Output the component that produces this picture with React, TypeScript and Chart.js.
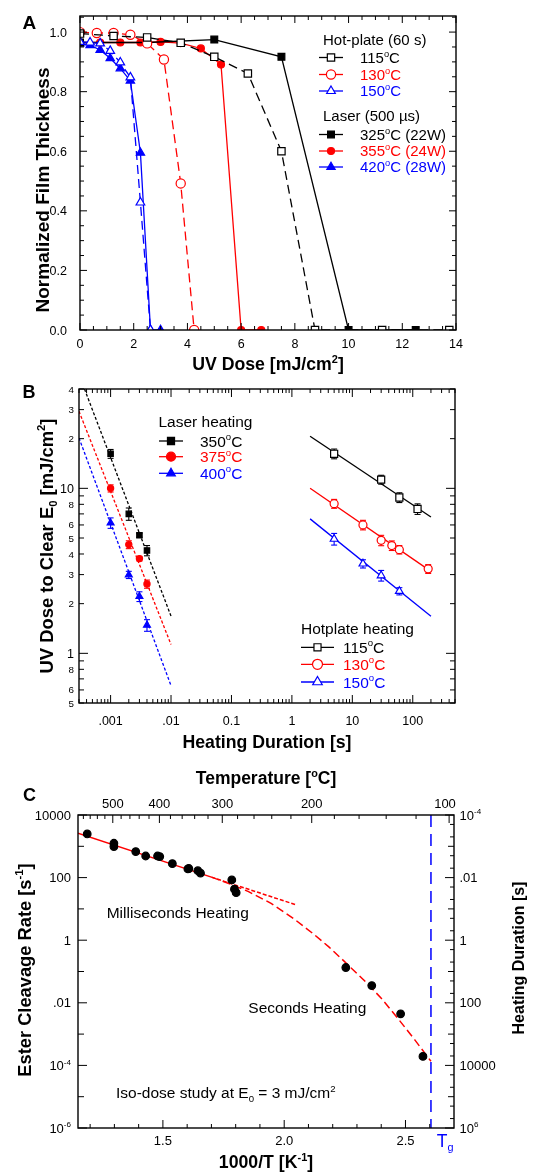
import React, { useEffect, useRef } from "react";
import { Chart, registerables } from "chart.js";

Chart.register(...registerables);

const FONT = "'Liberation Sans', Arial, Helvetica, sans-serif";
const BLACK = "#000000";
const RED = "#ff0000";
const BLUE = "#0000ff";

// ---------------- Panel A data ----------------
const hp115Dose = [0, 1.25, 2.5, 3.75, 5, 6.25, 7.5, 8.75, 11.25, 13.75];
const hp115Thick = [0.995, 0.987, 0.982, 0.964, 0.917, 0.861, 0.6, 0, 0, 0];
const hp130Dose = [0, 0.625, 1.25, 1.875, 2.5, 3.125, 3.75, 4.25];
const hp130Thick = [1.0, 0.997, 0.997, 0.991, 0.962, 0.908, 0.492, 0];
const hp150Dose = [0, 0.375, 0.75, 1.125, 1.5, 1.875, 2.25, 2.625];
const hp150Thick = [0.967, 0.965, 0.962, 0.937, 0.898, 0.848, 0.428, 0];
const ls325Dose = [0, 2.5, 5, 7.5, 10, 12.5];
const ls325Thick = [0.965, 0.965, 0.975, 0.917, 0, 0];
const ls355Dose = [0, 0.75, 1.5, 2.25, 3, 3.75, 4.5, 5.25, 6, 6.75];
const ls355Thick = [0.965, 0.965, 0.965, 0.965, 0.967, 0.963, 0.945, 0.891, 0, 0];
const ls420Dose = [0, 0.375, 0.75, 1.125, 1.5, 1.875, 2.25, 2.625, 3];
const ls420Thick = [0.962, 0.956, 0.94, 0.912, 0.878, 0.837, 0.595, 0, 0];
const doseTickLabels = ["0", "2", "4", "6", "8", "10", "12", "14"];
const thickTickLabels = ["0.0", "0.2", "0.4", "0.6", "0.8", "1.0"];

// ---------------- Panel B data ----------------
const lz350Time = [0.001, 0.002, 0.003, 0.004];
const lz350Dose = [16.2, 7.0, 5.2, 4.2];
const lz350Err = [1.0, 0.6, 0.15, 0.3];
const lz375Time = [0.001, 0.002, 0.003, 0.004];
const lz375Dose = [10.0, 4.56, 3.75, 2.63];
const lz375Err = [0.5, 0.25, 0.12, 0.15];
const lz400Time = [0.001, 0.002, 0.003, 0.004];
const lz400Dose = [6.17, 2.99, 2.21, 1.48];
const lz400Err = [0.45, 0.15, 0.15, 0.12];
const hb115Time = [5, 30, 60, 120];
const hb115Dose = [16.2, 11.3, 8.8, 7.5];
const hb115Err = [1.1, 0.7, 0.6, 0.55];
const hb130Time = [5, 15, 30, 45, 60, 180];
const hb130Dose = [8.07, 6.0, 4.84, 4.5, 4.25, 3.25];
const hb130Err = [0.5, 0.4, 0.35, 0.3, 0.25, 0.2];
const hb150Time = [5, 15, 30, 60];
const hb150Dose = [4.93, 3.49, 2.96, 2.38];
const hb150Err = [0.4, 0.2, 0.22, 0.12];
const fit350Time = [0.00037, 0.01];
const fit350Dose = [40, 1.68];
const fit375Time = [0.0003, 0.01];
const fit375Dose = [29.3, 1.13];
const fit400Time = [0.0003, 0.01];
const fit400Dose = [20.2, 0.637];
const fit115Time = [2, 200];
const fit115Dose = [20.7, 6.7];
const fit130Time = [2, 200];
const fit130Dose = [10.0, 3.14];
const fit150Time = [2, 200];
const fit150Dose = [6.53, 1.68];
const timeTickVals = [0.001, 0.01, 0.1, 1, 10, 100];
const timeTickLabels = [".001", ".01", "0.1", "1", "10", "100"];
const doseBTickVals = [0.5, 0.6, 0.8, 1, 2, 3, 4, 5, 6, 8, 10, 20, 30, 40];
const doseBTickLabels = ["5", "6", "8", "1", "2", "3", "4", "5", "6", "8", "10", "2", "3", "4"];

// ---------------- Panel C data ----------------
const invT = [1.188, 1.298, 1.298, 1.388, 1.429, 1.478, 1.487, 1.539, 1.603, 1.607, 1.644, 1.655, 1.784, 1.795, 1.802, 2.254, 2.361, 2.48, 2.572];
const cleaveRate = [2480, 1250, 980, 676, 490, 490, 468, 279, 189, 195, 166, 138, 84, 42.7, 33, 0.134, 0.0356, 0.00445, 0.000194];
const fitSolidX = [1.15, 1.7];
const fitSolidY = [2600, 103.5];
const fitDotX = [1.7, 2.05];
const fitDotY = [103.5, 13.4];
const curveX = [1.7, 1.78, 1.853, 1.946, 2.038, 2.118, 2.184, 2.25, 2.329, 2.4, 2.473, 2.54, 2.605];
const curveY = [103.5, 61.7, 35.6, 15.0, 4.97, 1.64, 0.614, 0.203, 0.0525, 0.0141, 0.00288, 0.00063, 0.000135];
const tgX = [2.605, 2.605];
const tgY = [10000, 0.000001];
const rateTickVals = [10000, 100, 1, 0.01, 0.0001, 0.000001];
const rateTickLabels = ["10000", "100", "1", ".01", "10^{-4}", "10^{-6}"];
const durTickVals = [0.0001, 0.01, 1, 100, 10000, 1000000];
const durTickLabels = ["10^{-4}", ".01", "1", "100", "10000", "10^{6}"];
const invTTickVals = [1.5, 2.0, 2.5];
const invTTickLabels = ["1.5", "2.0", "2.5"];
const tempTickLabels = [500, 400, 300, 200, 100];

// ---------------- helpers ----------------
type Seg = { t: string; k: number };
function parseRich(s: string): Seg[] {
  const out: Seg[] = [];
  let i = 0;
  let buf = "";
  while (i < s.length) {
    const c = s[i];
    if ((c === "^" || c === "_") && s[i + 1] === "{") {
      if (buf) { out.push({ t: buf, k: 0 }); buf = ""; }
      const j = s.indexOf("}", i);
      out.push({ t: s.slice(i + 2, j), k: c === "^" ? 1 : -1 });
      i = j + 1;
    } else { buf += c; i++; }
  }
  if (buf) out.push({ t: buf, k: 0 });
  return out;
}
function fontStr(size: number, bold?: boolean) {
  return `${bold ? "bold " : ""}${size}px ${FONT}`;
}
function drawRich(ctx: CanvasRenderingContext2D, s: string, x: number, y: number, size: number, o: { bold?: boolean; align?: string; color?: string } = {}) {
  const segs = parseRich(s);
  const ss = size * 0.62;
  let w = 0;
  const widths = segs.map((g) => {
    ctx.font = fontStr(g.k ? ss : size, o.bold);
    const m = ctx.measureText(g.t).width;
    w += m;
    return m;
  });
  let cx = o.align === "center" ? x - w / 2 : o.align === "right" ? x - w : x;
  const base = y + size * 0.36;
  ctx.fillStyle = o.color || BLACK;
  ctx.textBaseline = "alphabetic";
  ctx.textAlign = "left";
  segs.forEach((g, i) => {
    ctx.font = fontStr(g.k ? ss : size, o.bold);
    const dy = g.k === 1 ? -size * 0.42 : g.k === -1 ? size * 0.22 : 0;
    ctx.fillText(g.t, cx, base + dy);
    cx += widths[i];
  });
}
function drawRichRot(ctx: CanvasRenderingContext2D, s: string, cx: number, cy: number, size: number, o: { bold?: boolean; color?: string } = {}) {
  ctx.save();
  ctx.translate(cx, cy);
  ctx.rotate(-Math.PI / 2);
  drawRich(ctx, s, 0, 0, size, { ...o, align: "center" });
  ctx.restore();
}
function seg(ctx: CanvasRenderingContext2D, x1: number, y1: number, x2: number, y2: number) {
  ctx.beginPath();
  ctx.moveTo(x1, y1);
  ctx.lineTo(x2, y2);
  ctx.stroke();
}
function drawMarker(ctx: CanvasRenderingContext2D, style: string, x: number, y: number, r: number, fill: string, stroke: string, lw: number) {
  ctx.beginPath();
  if (style === "circle") {
    ctx.arc(x, y, r, 0, Math.PI * 2);
  } else if (style === "rect") {
    const s = r * Math.SQRT1_2;
    ctx.rect(x - s, y - s, 2 * s, 2 * s);
  } else {
    ctx.moveTo(x, y - r);
    ctx.lineTo(x + r * 0.866, y + r * 0.5);
    ctx.lineTo(x - r * 0.866, y + r * 0.5);
    ctx.closePath();
  }
  ctx.fillStyle = fill;
  ctx.fill();
  ctx.lineWidth = lw;
  ctx.strokeStyle = stroke;
  ctx.setLineDash([]);
  ctx.stroke();
}
function legendEntry(ctx: CanvasRenderingContext2D, x1: number, x2: number, y: number, color: string, style: string, r: number, filled: boolean, label: string, labelX: number, size: number) {
  ctx.save();
  ctx.strokeStyle = color;
  ctx.lineWidth = 1.3;
  ctx.setLineDash([]);
  seg(ctx, x1, y, x2, y);
  drawMarker(ctx, style, (x1 + x2) / 2, y, r, filled ? color : "#ffffff", color, 1.2);
  drawRich(ctx, label, labelX, y, size, { color });
  ctx.restore();
}
function pts(xs: number[], ys: number[]) {
  return xs.map((x, i) => ({ x, y: ys[i] }));
}
function ds(xs: number[], ys: number[], color: string, style: string, r: number, filled: boolean, dash: number[], showLine = true, lw = 1.3) {
  return {
    data: pts(xs, ys),
    borderColor: color,
    borderWidth: lw,
    borderDash: dash,
    showLine,
    pointStyle: style,
    pointRadius: r,
    pointHoverRadius: r,
    pointBackgroundColor: filled ? color : "#ffffff",
    pointBorderColor: color,
    pointBorderWidth: 1.2,
    tension: 0,
    fill: false,
    clip: 0,
  };
}
function fitDs(xs: number[], ys: number[], color: string, dash: number[], lw = 1.3) {
  return {
    data: pts(xs, ys),
    borderColor: color,
    borderWidth: lw,
    borderDash: dash,
    pointRadius: 0,
    pointHoverRadius: 0,
    tension: 0,
    fill: false,
    clip: 0,
  };
}
function hidden(extra: any) {
  return { display: false, ...extra };
}
function baseOptions(padding: any, scales: any) {
  return {
    responsive: false,
    animation: false,
    devicePixelRatio: 1,
    events: [],
    layout: { padding },
    plugins: { legend: { display: false }, tooltip: { enabled: false } },
    scales,
  };
}

// ---------------- Panel A ----------------
function configA(): any {
  const decor = {
    id: "decorA",
    afterDraw(chart: any) {
      const ctx: CanvasRenderingContext2D = chart.ctx;
      const { left, right, top, bottom } = chart.chartArea;
      const xs = chart.scales.x;
      const ys = chart.scales.y;
      ctx.save();
      ctx.strokeStyle = BLACK;
      ctx.setLineDash([]);
      ctx.lineWidth = 1;
      for (let k = 0; k <= 28; k++) {
        const v = k * 0.5;
        const px = xs.getPixelForValue(v);
        const len = k % 4 === 0 ? 7 : 4;
        seg(ctx, px, bottom, px, bottom - len);
        seg(ctx, px, top, px, top + len);
      }
      for (let k = 0; k <= 21; k++) {
        const v = k * 0.05;
        const py = ys.getPixelForValue(v);
        const len = k % 4 === 0 ? 7 : 4;
        seg(ctx, left, py, left + len, py);
        seg(ctx, right, py, right - len, py);
      }
      ctx.lineWidth = 1.4;
      ctx.strokeRect(left, top, right - left, bottom - top);
      doseTickLabels.forEach((t) => {
        drawRich(ctx, t, xs.getPixelForValue(parseFloat(t)), 343, 12.5, { align: "center" });
      });
      thickTickLabels.forEach((t) => {
        drawRich(ctx, t, 67, ys.getPixelForValue(parseFloat(t)), 12.5, { align: "right" });
      });
      drawRich(ctx, "A", 22.5, 22.5, 19, { bold: true });
      drawRich(ctx, "UV Dose [mJ/cm^{2}]", (left + right) / 2, 364, 17.7, { bold: true, align: "center" });
      drawRichRot(ctx, "Normalized Film Thickness", 42, 190, 19, { bold: true });

      drawRich(ctx, "Hot-plate (60 s)", 323, 40, 15);
      legendEntry(ctx, 319, 343, 57.5, BLACK, "rect", 5.2, false, "115^{o}C", 360, 15);
      legendEntry(ctx, 319, 343, 74.5, RED, "circle", 4.6, false, "130^{o}C", 360, 15);
      legendEntry(ctx, 319, 343, 91, BLUE, "triangle", 5, false, "150^{o}C", 360, 15);
      drawRich(ctx, "Laser (500 \u00b5s)", 323, 116, 15);
      legendEntry(ctx, 319, 343, 134.5, BLACK, "rect", 4.8, true, "325^{o}C (22W)", 360, 15);
      legendEntry(ctx, 319, 343, 151, RED, "circle", 3.5, true, "355^{o}C (24W)", 360, 15);
      legendEntry(ctx, 319, 343, 167, BLUE, "triangle", 4.8, true, "420^{o}C (28W)", 360, 15);
      ctx.restore();
    },
  };
  return {
    type: "line",
    data: {
      datasets: [
        ds(hp115Dose, hp115Thick, BLACK, "rect", 5.2, false, [9, 5]),
        ds(hp130Dose, hp130Thick, RED, "circle", 4.6, false, [9, 5]),
        ds(hp150Dose, hp150Thick, BLUE, "triangle", 5, false, [9, 5]),
        ds(ls325Dose, ls325Thick, BLACK, "rect", 4.8, true, []),
        ds(ls355Dose, ls355Thick, RED, "circle", 3.5, true, []),
        ds(ls420Dose, ls420Thick, BLUE, "triangle", 4.8, true, []),
      ],
    },
    options: baseOptions(
      { left: 80, top: 16, right: 83, bottom: 50 },
      {
        x: hidden({ type: "linear", min: 0, max: 14 }),
        y: hidden({ type: "linear", min: 0, max: 1.054 }),
      }
    ),
    plugins: [decor],
  };
}

// ---------------- Panel B ----------------
const errSeries = [
  { xs: lz350Time, ys: lz350Dose, es: lz350Err, color: BLACK },
  { xs: lz375Time, ys: lz375Dose, es: lz375Err, color: RED },
  { xs: lz400Time, ys: lz400Dose, es: lz400Err, color: BLUE },
  { xs: hb115Time, ys: hb115Dose, es: hb115Err, color: BLACK },
  { xs: hb130Time, ys: hb130Dose, es: hb130Err, color: RED },
  { xs: hb150Time, ys: hb150Dose, es: hb150Err, color: BLUE },
];
function configB(): any {
  const decor = {
    id: "decorB",
    beforeDatasetsDraw(chart: any) {
      const ctx: CanvasRenderingContext2D = chart.ctx;
      const xs = chart.scales.x;
      const ys = chart.scales.y;
      ctx.save();
      ctx.lineWidth = 1.1;
      ctx.setLineDash([]);
      errSeries.forEach((s) => {
        ctx.strokeStyle = s.color;
        s.xs.forEach((x, i) => {
          const px = xs.getPixelForValue(x);
          const y1 = ys.getPixelForValue(s.ys[i] + s.es[i]);
          const y2 = ys.getPixelForValue(s.ys[i] - s.es[i]);
          seg(ctx, px, y1, px, y2);
          seg(ctx, px - 3, y1, px + 3, y1);
          seg(ctx, px - 3, y2, px + 3, y2);
        });
      });
      ctx.restore();
    },
    afterDraw(chart: any) {
      const ctx: CanvasRenderingContext2D = chart.ctx;
      const { left, right, top, bottom } = chart.chartArea;
      const xs = chart.scales.x;
      const ys = chart.scales.y;
      ctx.save();
      ctx.strokeStyle = BLACK;
      ctx.setLineDash([]);
      ctx.lineWidth = 1;
      for (let e = -4; e <= 2; e++) {
        for (let m = 1; m <= 9; m++) {
          const v = m * Math.pow(10, e);
          if (v < 0.0003 * 0.999 || v > 500 * 1.001) continue;
          const px = xs.getPixelForValue(v);
          const len = m === 1 ? 8 : 4;
          seg(ctx, px, bottom, px, bottom - len);
          seg(ctx, px, top, px, top + len);
        }
      }
      for (let e = -1; e <= 1; e++) {
        for (let m = 1; m <= 9; m++) {
          const v = m * Math.pow(10, e);
          if (v < 0.5 * 0.999 || v > 40 * 1.001) continue;
          const py = ys.getPixelForValue(v);
          const len = m === 1 ? 9 : 5;
          seg(ctx, left, py, left + len, py);
          seg(ctx, right, py, right - len, py);
        }
      }
      ctx.lineWidth = 1.4;
      ctx.strokeRect(left, top, right - left, bottom - top);
      timeTickVals.forEach((v, i) => {
        drawRich(ctx, timeTickLabels[i], xs.getPixelForValue(v), 340, 12.5, { align: "center" });
      });
      doseBTickVals.forEach((v, i) => {
        const big = v === 1 || v === 10;
        drawRich(ctx, doseBTickLabels[i], 74, ys.getPixelForValue(v), big ? 12.5 : 9.8, { align: "right" });
      });
      drawRich(ctx, "B", 22.5, 11.8, 18, { bold: true });
      drawRich(ctx, "Heating Duration [s]", (left + right) / 2, 361.7, 17.7, { bold: true, align: "center" });
      drawRichRot(ctx, "UV Dose to Clear E_{0} [mJ/cm^{2}]", 46, (top + bottom) / 2, 18.4, { bold: true });

      drawRich(ctx, "Laser heating", 158.5, 41.7, 15.5);
      legendEntry(ctx, 159, 183, 61, BLACK, "rect", 5, true, "350^{o}C", 200, 15.5);
      legendEntry(ctx, 159, 183, 76.7, RED, "circle", 4.5, true, "375^{o}C", 200, 15.5);
      legendEntry(ctx, 159, 183, 93.3, BLUE, "triangle", 5, true, "400^{o}C", 200, 15.5);
      drawRich(ctx, "Hotplate heating", 301, 248.3, 15.5);
      legendEntry(ctx, 301, 334, 267.3, BLACK, "rect", 5, false, "115^{o}C", 343, 15.5);
      legendEntry(ctx, 301, 334, 284.3, RED, "circle", 5, false, "130^{o}C", 343, 15.5);
      legendEntry(ctx, 301, 334, 302, BLUE, "triangle", 5.5, false, "150^{o}C", 343, 15.5);
      ctx.restore();
    },
  };
  return {
    type: "line",
    data: {
      datasets: [
        ds(lz350Time, lz350Dose, BLACK, "rect", 3.8, true, [], false),
        ds(lz375Time, lz375Dose, RED, "circle", 3.1, true, [], false),
        ds(lz400Time, lz400Dose, BLUE, "triangle", 4, true, [], false),
        ds(hb115Time, hb115Dose, BLACK, "rect", 5, false, [], false),
        ds(hb130Time, hb130Dose, RED, "circle", 4, false, [], false),
        ds(hb150Time, hb150Dose, BLUE, "triangle", 4.5, false, [], false),
        fitDs(fit350Time, fit350Dose, BLACK, [3, 2]),
        fitDs(fit375Time, fit375Dose, RED, [3, 2]),
        fitDs(fit400Time, fit400Dose, BLUE, [3, 2]),
        fitDs(fit115Time, fit115Dose, BLACK, []),
        fitDs(fit130Time, fit130Dose, RED, []),
        fitDs(fit150Time, fit150Dose, BLUE, []),
      ],
    },
    options: baseOptions(
      { left: 79, top: 9, right: 84, bottom: 62 },
      {
        x: hidden({ type: "logarithmic", min: 0.0003, max: 500 }),
        y: hidden({ type: "logarithmic", min: 0.5, max: 40 }),
      }
    ),
    plugins: [decor],
  };
}

// ---------------- Panel C ----------------
function configC(): any {
  const decor = {
    id: "decorC",
    afterDraw(chart: any) {
      const ctx: CanvasRenderingContext2D = chart.ctx;
      const { left, right, top, bottom } = chart.chartArea;
      const xs = chart.scales.x;
      const ys = chart.scales.y;
      const y2 = chart.scales.y2;
      ctx.save();
      ctx.strokeStyle = BLACK;
      ctx.setLineDash([]);
      ctx.lineWidth = 1;
      for (let k = 12; k <= 26; k++) {
        const px = xs.getPixelForValue(k / 10);
        const len = k % 5 === 0 ? 8 : 4;
        seg(ctx, px, bottom, px, bottom - len);
      }
      for (let T = 100; T <= 600; T += 20) {
        const v = 1000 / (T + 273.15);
        if (v < 1.15 || v > 2.7) continue;
        const px = xs.getPixelForValue(v);
        const len = T % 100 === 0 ? 8 : 4;
        seg(ctx, px, top, px, top + len);
      }
      for (let e = -6; e <= 4; e++) {
        const py = ys.getPixelForValue(Math.pow(10, e));
        const len = e % 2 === 0 ? 9 : 6;
        seg(ctx, left, py, left + len, py);
      }
      for (let e = -4; e <= 6; e++) {
        [1, 2, 5].forEach((m) => {
          const v = m * Math.pow(10, e);
          if (v > 1e6 * 1.001) return;
          const py = y2.getPixelForValue(v);
          const len = m === 1 ? (e % 2 === 0 ? 9 : 6) : 4;
          seg(ctx, right, py, right - len, py);
        });
      }
      ctx.lineWidth = 1.4;
      ctx.strokeRect(left, top, right - left, bottom - top);

      invTTickVals.forEach((v, i) => {
        drawRich(ctx, invTTickLabels[i], xs.getPixelForValue(v), 375, 13, { align: "center" });
      });
      tempTickLabels.forEach((T) => {
        let px = xs.getPixelForValue(1000 / (T + 273.15));
        if (px > right - 8) px = right - 9;
        drawRich(ctx, String(T), px, 38.3, 13, { align: "center" });
      });
      rateTickVals.forEach((v, i) => {
        drawRich(ctx, rateTickLabels[i], 71, ys.getPixelForValue(v), 13, { align: "right" });
      });
      durTickVals.forEach((v, i) => {
        drawRich(ctx, durTickLabels[i], right + 5.5, y2.getPixelForValue(v), 13, { align: "left" });
      });
      drawRich(ctx, "C", 23, 29.2, 18, { bold: true });
      drawRich(ctx, "Temperature [^{o}C]", (left + right) / 2, 13, 17.5, { bold: true, align: "center" });
      drawRich(ctx, "1000/T [K^{-1}]", (left + right) / 2, 396.7, 17.7, { bold: true, align: "center" });
      drawRichRot(ctx, "Ester Cleavage Rate [s^{-1}]", 24, 205, 18.3, { bold: true });
      drawRichRot(ctx, "Heating Duration [s]", 518, 193, 16, { bold: true });
      drawRich(ctx, "Milliseconds Heating", 106.7, 147.7, 15.5);
      drawRich(ctx, "Seconds Heating", 248.3, 242.7, 15.5);
      drawRich(ctx, "Iso-dose study at E_{0} = 3 mJ/cm^{2}", 116, 327.7, 15.5);
      drawRich(ctx, "T_{g}", 436.7, 376, 17.5, { color: BLUE });
      ctx.restore();
    },
  };
  return {
    type: "line",
    data: {
      datasets: [
        ds(invT, cleaveRate, BLACK, "circle", 3.8, true, [], false),
        fitDs(fitSolidX, fitSolidY, RED, [], 1.5),
        fitDs(fitDotX, fitDotY, RED, [4, 2], 1.5),
        fitDs(curveX, curveY, RED, [8, 4], 1.5),
        fitDs(tgX, tgY, BLUE, [12, 7], 1.5),
      ],
    },
    options: baseOptions(
      { left: 78, top: 50, right: 85, bottom: 44 },
      {
        x: hidden({ type: "linear", min: 1.15, max: 2.7 }),
        y: hidden({ type: "logarithmic", min: 0.000001, max: 10000, position: "left" }),
        y2: hidden({ type: "logarithmic", min: 0.0001, max: 1000000, reverse: true, position: "right" }),
      }
    ),
    plugins: [decor],
  };
}

export default function App() {
  const a = useRef<HTMLCanvasElement>(null);
  const b = useRef<HTMLCanvasElement>(null);
  const c = useRef<HTMLCanvasElement>(null);
  useEffect(() => {
    const charts = [
      new Chart(a.current as HTMLCanvasElement, configA()),
      new Chart(b.current as HTMLCanvasElement, configB()),
      new Chart(c.current as HTMLCanvasElement, configC()),
    ];
    return () => charts.forEach((ch) => ch.destroy());
  }, []);
  return (
    <div style={{ position: "absolute", left: 0, top: 0, width: 539, height: 1172, background: "#ffffff" }}>
      <canvas ref={a} width={539} height={380} style={{ position: "absolute", left: 0, top: 0 }} />
      <canvas ref={b} width={539} height={385} style={{ position: "absolute", left: 0, top: 380 }} />
      <canvas ref={c} width={539} height={407} style={{ position: "absolute", left: 0, top: 765 }} />
    </div>
  );
}
